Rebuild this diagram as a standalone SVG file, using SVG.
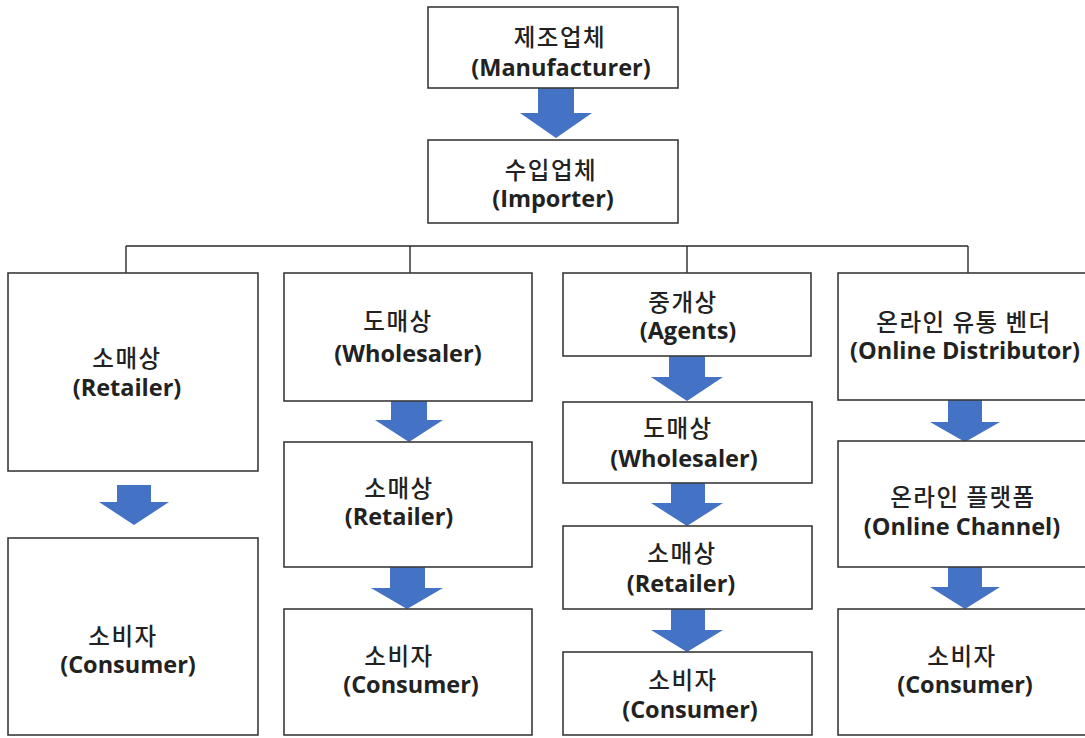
<svg xmlns="http://www.w3.org/2000/svg" width="1085" height="738" viewBox="0 0 1085 738">
<style>
.box{fill:#fff;stroke:#3a3a3a;stroke-width:1.6}
.ko{font-family:"Noto Sans CJK KR","Noto Sans",sans-serif;font-weight:500;font-size:23.5px;fill:#222;text-anchor:middle;letter-spacing:1.5px}
.en{font-family:"Open Sans","Noto Sans","Noto Sans CJK KR",sans-serif;font-weight:bold;font-size:23.5px;fill:#222;text-anchor:middle}
.arr{fill:#4472C4}
.conn{fill:none;stroke:#2a2a2a;stroke-width:1.4}
</style>
<rect width="1085" height="738" fill="#fff"/>
<g id="connectors">
<path class="conn" d="M126 246H968M126 246V273M410 246V273M687 246V273M968 246V273"/>
<path class="arr" d="M538 88H574V113H592L556 138L520 113H538Z"/>
<path class="arr" d="M117 485H151V502H169L134 525L99 502H117Z"/>
<path class="arr" d="M391 401H427V420H443L409 442L375 420H391Z"/>
<path class="arr" d="M390 567H425V588H443L407 609L371 588H390Z"/>
<path class="arr" d="M669 356H705V377H723L687 401L651 377H669Z"/>
<path class="arr" d="M671 483H705V503H723L687 526L651 503H671Z"/>
<path class="arr" d="M671 609H705V630H723L687 652L651 630H671Z"/>
<path class="arr" d="M948 400H982V422H1000L965 442L930 422H948Z"/>
<path class="arr" d="M948 567H982V587H1000L965 609L930 587H948Z"/>
</g>
<g id="manufacturer"><rect class="box" x="428" y="7" width="250" height="81"/><text class="ko" x="560" y="46">제조업체</text><text class="en" x="561" y="76">(Manufacturer)</text></g>
<g id="importer"><rect class="box" x="428" y="140" width="250" height="83"/><text class="ko" x="551" y="179">수입업체</text><text class="en" x="553" y="207">(Importer)</text></g>
<g id="retailer1"><rect class="box" x="8" y="273" width="250" height="198"/><text class="ko" x="127" y="367">소매상</text><text class="en" x="127" y="396">(Retailer)</text></g>
<g id="consumer1"><rect class="box" x="8" y="538" width="250" height="197"/><text class="ko" x="123" y="645">소비자</text><text class="en" x="128" y="673">(Consumer)</text></g>
<g id="wholesaler1"><rect class="box" x="284" y="273" width="248" height="128"/><text class="ko" x="398" y="330">도매상</text><text class="en" x="408" y="362">(Wholesaler)</text></g>
<g id="retailer2"><rect class="box" x="284" y="442" width="248" height="125"/><text class="ko" x="399" y="497">소매상</text><text class="en" x="399" y="525">(Retailer)</text></g>
<g id="consumer2"><rect class="box" x="284" y="609" width="248" height="126"/><text class="ko" x="399" y="665">소비자</text><text class="en" x="411" y="693">(Consumer)</text></g>
<g id="agents"><rect class="box" x="563" y="273" width="248" height="83"/><text class="ko" x="683" y="311">중개상</text><text class="en" x="688" y="339">(Agents)</text></g>
<g id="wholesaler2"><rect class="box" x="563" y="402" width="249" height="81"/><text class="ko" x="678" y="437">도매상</text><text class="en" x="684" y="467">(Wholesaler)</text></g>
<g id="retailer3"><rect class="box" x="563" y="526" width="249" height="83"/><text class="ko" x="682" y="562">소매상</text><text class="en" x="681" y="592">(Retailer)</text></g>
<g id="consumer3"><rect class="box" x="563" y="652" width="249" height="83"/><text class="ko" x="683" y="689">소비자</text><text class="en" x="690" y="718">(Consumer)</text></g>
<g id="online-distributor"><rect class="box" x="838" y="273" width="262" height="127"/><text class="ko" x="964" y="331">온라인 유통 벤더</text><text class="en" x="965" y="359">(Online Distributor)</text></g>
<g id="online-channel"><rect class="box" x="838" y="441" width="262" height="126"/><text class="ko" x="963" y="506">온라인 플랫폼</text><text class="en" x="962" y="535">(Online Channel)</text></g>
<g id="consumer4"><rect class="box" x="838" y="609" width="262" height="126"/><text class="ko" x="962" y="665">소비자</text><text class="en" x="965" y="693">(Consumer)</text></g>
</svg>
